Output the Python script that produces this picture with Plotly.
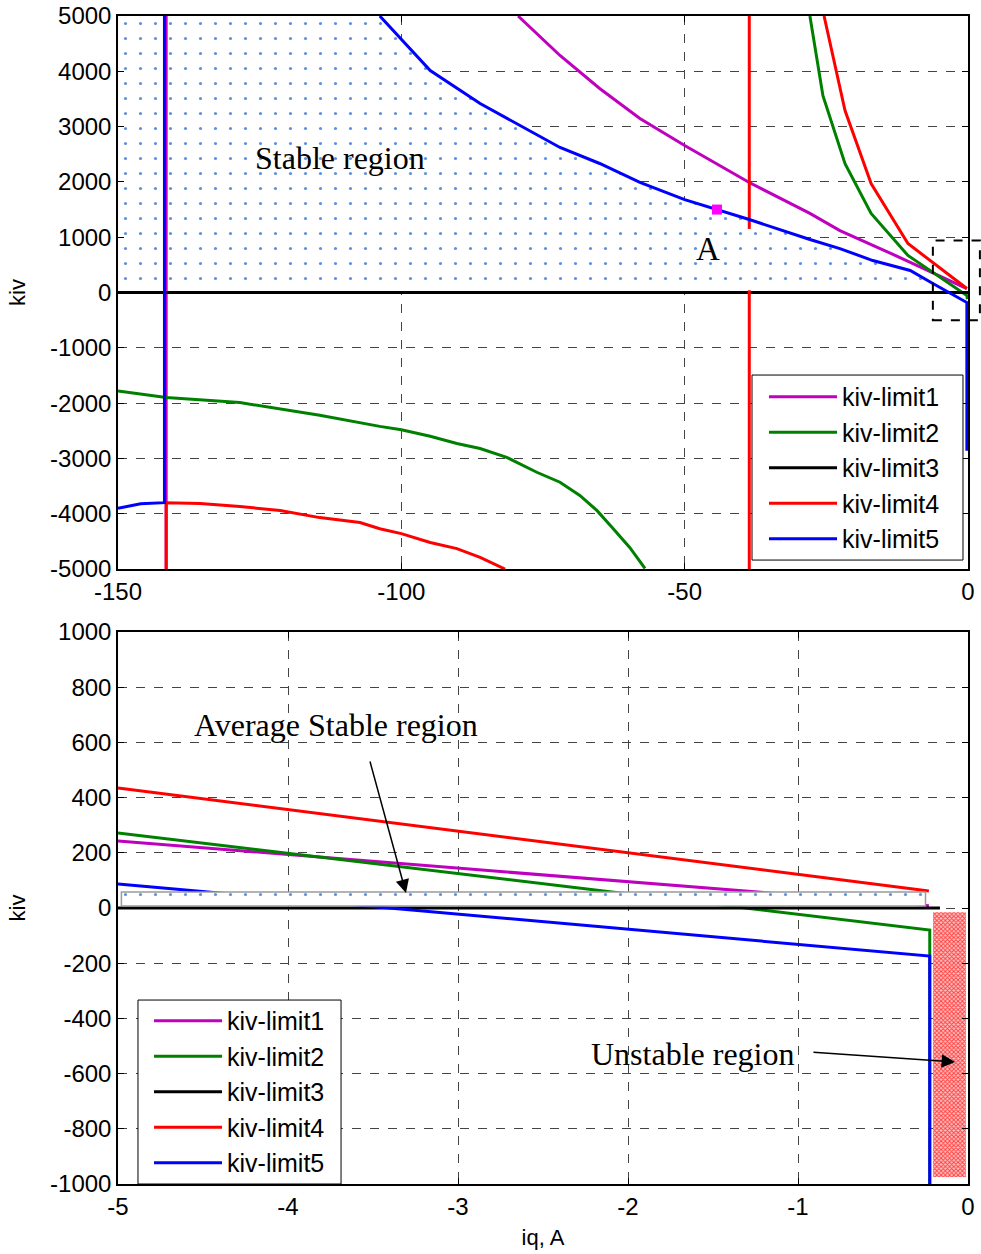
import numpy as np
import plotly.graph_objects as go

# ---------------- upper panel: kiv limits over the full iq range ----------------
lim1_vert_iq = [-141.5, -141.5]
lim1_vert_kiv = [-5000, 5000]
lim1_iq = [-79.4, -72, -65, -57.9, -50, -38.6, -27.9, -22.6, -12, -0.2]
lim1_kiv = [5000, 4286, 3690, 3146, 2658, 1990, 1430, 1120, 633, 70]

lim2_left_iq = [-150, -141.5, -128.5, -114.4, -103.8, -100, -94.9, -90.2, -86.1, -81.4,
                -76.1, -72, -68.5, -65.5, -62.6, -59.7, -57]
lim2_left_kiv = [-1780, -1900, -1990, -2220, -2420, -2480, -2600, -2730, -2820, -2980,
                 -3250, -3430, -3670, -3940, -4270, -4610, -4990]
lim2_right_iq = [-27.9, -25.6, -21.7, -17.1, -10.6, -0.2, -0.1]
lim2_right_kiv = [5000, 3560, 2330, 1430, 670, -54, -120]

lim3_iq = [-150, 0]
lim3_kiv = [0, 0]

lim4_left_iq = [-141.5, -141.5, -135.5, -128.5, -121.4, -114.4, -107.3, -103.8, -100,
                -94.9, -90.2, -86.1, -81.7]
lim4_left_kiv = [-5000, -3800, -3815, -3870, -3940, -4070, -4160, -4270, -4360,
                 -4520, -4630, -4790, -5000]
lim4_pole_iq = -38.6
lim4_pole_upper_kiv = [5000, 1150]
lim4_pole_lower_kiv = [40, -5000]
lim4_right_iq = [-25.4, -21.7, -17.1, -10.6, -0.2]
lim4_right_kiv = [5000, 3290, 1970, 886, 72]

lim5_left_iq = [-150, -146, -141.8, -141.8]
lim5_left_kiv = [-3900, -3820, -3800, 5000]
lim5_iq = [-103.8, -94.9, -86.1, -72, -65, -57.9, -50, -44.3, -38.6, -27.9, -22.6,
           -16.8, -10.2, -6.2, -0.2, -0.2]
lim5_kiv = [5000, 4015, 3418, 2622, 2333, 1990, 1680, 1500, 1320, 958, 795,
            578, 398, 163, -180, -2860]

point_a_iq = -44.3
point_a_kiv = 1500

zoom_box_iq = [-6.2, 2.1]
zoom_box_kiv = [-500, 940]

# ---------------- lower panel: close-up near iq = 0 ----------------
low1_iq = [-5, -0.23]
low1_kiv = [243, 8]
low2_iq = [-5, -0.225, -0.225]
low2_kiv = [272, -80, -1000]
low3_iq = [-5, -0.165]
low3_kiv = [0, 0]
low4_iq = [-5, -0.23]
low4_kiv = [435, 62]
low5_iq = [-5, -0.225, -0.225]
low5_kiv = [87, -174, -1000]

avg_stable_iq = [-4.98, -0.25]
avg_stable_kiv = [7, 58]
unstable_iq = [-0.206, -0.012]
unstable_kiv = [-975, -15]

# ---------------- tick labels ----------------
top_x_ticks = [-150, -100, -50, 0]
top_x_labels = ["-150", "-100", "-50", "0"]
top_y_ticks = [-5000, -4000, -3000, -2000, -1000, 0, 1000, 2000, 3000, 4000, 5000]
top_y_labels = ["-5000", "-4000", "-3000", "-2000", "-1000", "0",
                "1000", "2000", "3000", "4000", "5000"]
bot_x_ticks = [-5, -4, -3, -2, -1, 0]
bot_x_labels = ["-5", "-4", "-3", "-2", "-1", "0"]
bot_y_ticks = [-1000, -800, -600, -400, -200, 0, 200, 400, 600, 800, 1000]
bot_y_labels = ["-1000", "-800", "-600", "-400", "-200", "0",
                "200", "400", "600", "800", "1000"]

names = ["kiv-limit1", "kiv-limit2", "kiv-limit3", "kiv-limit4", "kiv-limit5"]
colors = ["#bf00bf", "#008000", "#000000", "#ff0000", "#0000ff"]

TOP_X = [-150, 0]
TOP_Y = [-5000, 5000]
BOT_X = [-5, 0]
BOT_Y = [-1000, 1000]
TOP_DOM = [0.5265, 1.0]
BOT_DOM = [0.0, 0.4726]

SANS = "Liberation Sans, Arial, sans-serif"
SERIF = "Liberation Serif, Times New Roman, serif"
LW = 3


def joined(*segments):
    """Concatenate polyline segments separated by gaps."""
    xs, ys = [], []
    for i, (sx, sy) in enumerate(segments):
        if i:
            xs.append(None)
            ys.append(None)
        xs += list(sx)
        ys += list(sy)
    return xs, ys


fig = go.Figure()

dots = dict(shape=".", fgcolor="#5f92dc", bgcolor="white", size=15, solidity=0.035)

# stable region: above kiv = 0 and below the kiv-limit5 curve
b_iq = np.array(lim5_iq[:-1], dtype=float)
b_kiv = np.array(lim5_kiv[:-1], dtype=float)
k = int(np.argmax(b_kiv < 0))
cross = b_iq[k - 1] + (b_iq[k] - b_iq[k - 1]) * b_kiv[k - 1] / (b_kiv[k - 1] - b_kiv[k])
reg_x = [TOP_X[0], TOP_X[0]] + list(b_iq[:k]) + [cross, TOP_X[0]]
reg_y = [0, TOP_Y[1]] + list(b_kiv[:k]) + [0, 0]
fig.add_trace(go.Scatter(x=reg_x, y=reg_y, mode="lines", fill="toself", fillcolor="white",
                         fillpattern=dots, line=dict(width=0), showlegend=False,
                         hoverinfo="skip", xaxis="x", yaxis="y"))

top_series = [
    joined((lim1_vert_iq, lim1_vert_kiv), (lim1_iq, lim1_kiv)),
    joined((lim2_left_iq, lim2_left_kiv), (lim2_right_iq, lim2_right_kiv)),
    joined((lim3_iq, lim3_kiv)),
    joined((lim4_left_iq, lim4_left_kiv),
           ([lim4_pole_iq] * 2, lim4_pole_upper_kiv),
           ([lim4_pole_iq] * 2, lim4_pole_lower_kiv),
           (lim4_right_iq, lim4_right_kiv)),
    joined((lim5_left_iq, lim5_left_kiv), (lim5_iq, lim5_kiv)),
]
for i, (xs, ys) in enumerate(top_series):
    fig.add_trace(go.Scatter(x=xs, y=ys, mode="lines", name=names[i],
                             line=dict(color=colors[i], width=LW),
                             legend="legend", xaxis="x", yaxis="y"))

fig.add_trace(go.Scatter(x=[point_a_iq], y=[point_a_kiv], mode="markers",
                         marker=dict(symbol="square", size=10, color="#ff00ff"),
                         showlegend=False, xaxis="x", yaxis="y"))

bot_series = [(low1_iq, low1_kiv), (low2_iq, low2_kiv), (low3_iq, low3_kiv),
              (low4_iq, low4_kiv), (low5_iq, low5_kiv)]
for i, (xs, ys) in enumerate(bot_series):
    fig.add_trace(go.Scatter(x=xs, y=ys, mode="lines", name=names[i],
                             line=dict(color=colors[i], width=LW),
                             legend="legend2", xaxis="x2", yaxis="y2"))

# shaded bands of the close-up
x0, x1 = avg_stable_iq
y0, y1 = avg_stable_kiv
fig.add_trace(go.Scatter(x=[x0, x1, x1, x0, x0], y=[y0, y0, y1, y1, y0], mode="lines",
                         fill="toself", fillcolor="white", fillpattern=dots,
                         line=dict(color="#9a9a9a", width=1.5), showlegend=False,
                         hoverinfo="skip", xaxis="x2", yaxis="y2"))
x0, x1 = unstable_iq
y0, y1 = unstable_kiv
fig.add_trace(go.Scatter(x=[x0, x1, x1, x0, x0], y=[y0, y0, y1, y1, y0], mode="lines",
                         fill="toself", fillcolor="#ff8c8c",
                         fillpattern=dict(shape="x", fgcolor="#ff3b3b", bgcolor="#ffc4c4",
                                          size=3, solidity=0.5),
                         line=dict(width=0), showlegend=False,
                         hoverinfo="skip", xaxis="x2", yaxis="y2"))


def to_paper(v, rng, dom):
    return dom[0] + (v - rng[0]) / (rng[1] - rng[0]) * (dom[1] - dom[0])


shapes = [
    # dashed frame around the region enlarged in the lower panel
    dict(type="rect", xref="paper", yref="paper",
         x0=to_paper(zoom_box_iq[0], TOP_X, [0, 1]),
         x1=to_paper(zoom_box_iq[1], TOP_X, [0, 1]),
         y0=to_paper(zoom_box_kiv[0], TOP_Y, TOP_DOM),
         y1=to_paper(zoom_box_kiv[1], TOP_Y, TOP_DOM),
         line=dict(color="black", width=2, dash="dash")),
    # legend frames
    dict(type="rect", xref="paper", yref="paper", x0=0.7459, x1=0.9941, y0=0.5342, y1=0.6926,
         fillcolor="white", line=dict(color="black", width=1)),
    dict(type="rect", xref="paper", yref="paper", x0=0.0235, x1=0.2624, y0=0.0, y1=0.1575,
         fillcolor="white", line=dict(color="black", width=1)),
]

annotations = [
    dict(x=-110.8, y=2440, xref="x", yref="y", text="Stable region", showarrow=False,
         font=dict(family=SERIF, size=32, color="black")),
    dict(x=-45.9, y=790, xref="x", yref="y", text="A", showarrow=False,
         font=dict(family=SERIF, size=33, color="black")),
    dict(x=-3.72, y=662, xref="x2", yref="y2", text="Average Stable region", showarrow=False,
         font=dict(family=SERIF, size=32, color="black")),
    dict(x=-3.306, y=54, ax=-3.52, ay=536, xref="x2", yref="y2", axref="x2", ayref="y2",
         text="", showarrow=True, arrowhead=2, arrowsize=1.8, arrowwidth=1.5,
         arrowcolor="black"),
    dict(x=-1.62, y=-530, xref="x2", yref="y2", text="Unstable region", showarrow=False,
         font=dict(family=SERIF, size=32, color="black")),
    dict(x=-0.076, y=-558, ax=-0.918, ay=-522, xref="x2", yref="y2", axref="x2", ayref="y2",
         text="", showarrow=True, arrowhead=2, arrowsize=1.8, arrowwidth=1.5,
         arrowcolor="black"),
]

axis_common = dict(showline=True, linecolor="black", linewidth=1.5, mirror="allticks",
                   ticks="inside", ticklen=6, tickwidth=1, tickcolor="black",
                   showgrid=True, gridcolor="#444444", gridwidth=1, griddash="dash",
                   zeroline=False, automargin=False,
                   tickfont=dict(family=SANS, size=24, color="black"))
title_font = dict(family=SANS, size=22, color="black")

legend_common = dict(font=dict(family=SANS, size=25, color="black"),
                     bgcolor="rgba(0,0,0,0)", borderwidth=0, itemwidth=68,
                     xanchor="left", yanchor="top")

fig.update_layout(
    template="none",
    width=981, height=1254, margin=dict(l=118, r=13, t=16, b=70),
    plot_bgcolor="white", paper_bgcolor="white",
    xaxis=dict(domain=[0, 1], range=TOP_X, anchor="y",
               tickvals=top_x_ticks, ticktext=top_x_labels, **axis_common),
    yaxis=dict(domain=TOP_DOM, range=TOP_Y, anchor="x",
               tickvals=top_y_ticks, ticktext=top_y_labels,
               title=dict(text="kiv", font=title_font, standoff=18), **axis_common),
    xaxis2=dict(domain=[0, 1], range=BOT_X, anchor="y2",
                tickvals=bot_x_ticks, ticktext=bot_x_labels,
                title=dict(text="iq, A", font=title_font, standoff=11), **axis_common),
    yaxis2=dict(domain=BOT_DOM, range=BOT_Y, anchor="x2",
                tickvals=bot_y_ticks, ticktext=bot_y_labels,
                title=dict(text="kiv", font=title_font, standoff=18), **axis_common),
    legend=dict(x=0.7600, y=0.6936, **legend_common),
    legend2=dict(x=0.0365, y=0.1593, **legend_common),
    shapes=shapes,
    annotations=annotations,
    showlegend=True,
)

fig.write_html("out.html")
